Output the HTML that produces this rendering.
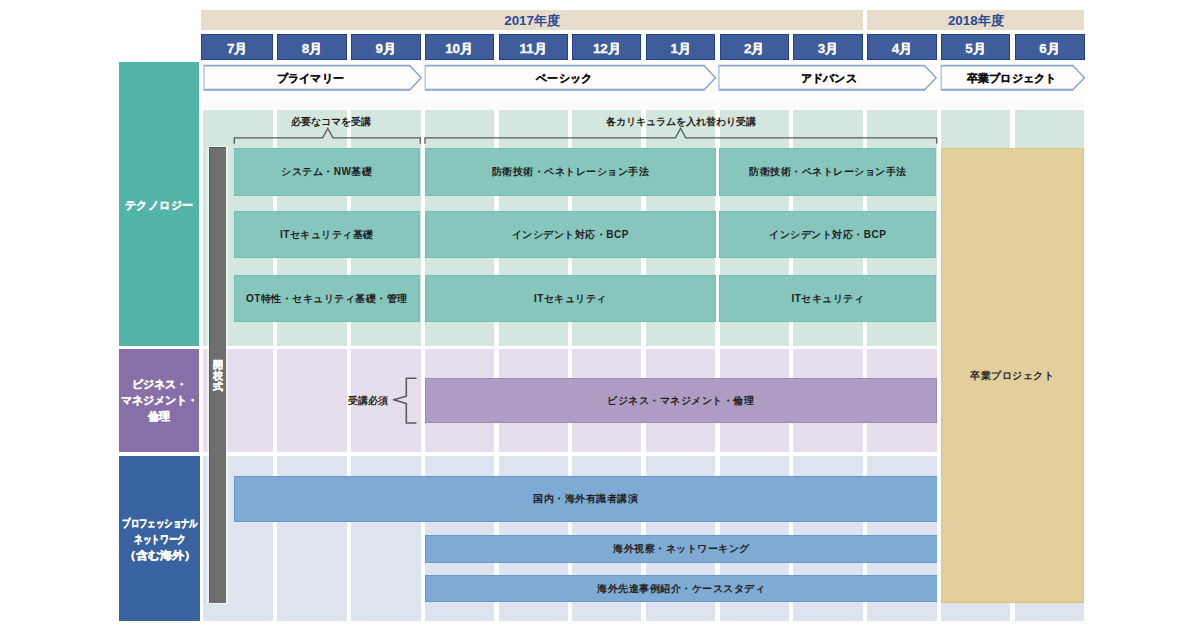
<!DOCTYPE html>
<html lang="ja"><head><meta charset="utf-8"><title>カリキュラム</title>
<style>
html,body{margin:0;padding:0;background:#fff;}
body{width:1200px;height:630px;position:relative;overflow:hidden;font-family:"Liberation Sans",sans-serif;}
.a{position:absolute;box-sizing:border-box;}
.c{display:flex;align-items:center;justify-content:center;text-align:center;white-space:nowrap;}
.yr{background:#e7dbca;color:#2b4a93;font-size:13.4px;font-weight:bold;padding-top:1.5px;}
.mo{background:#3f5c9b;border:1px solid #21408a;color:#fff;font-size:13.4px;font-weight:bold;padding-top:3px;-webkit-text-stroke:0.3px #fff;}
.bg1{background:#d3e7de;}
.bg2{background:#e6deec;}
.bg3{background:#dde3ef;}
.lab{color:#fff;font-weight:bold;font-size:11.5px;line-height:16px;-webkit-text-stroke:0.35px #fff;}
.blk{color:#1e1e1e;font-size:10px;letter-spacing:0.5px;font-weight:bold;padding-top:1px;}
.tb{background:#86c6bd;border:1px solid #74beb4;}
.pb{background:#ae9cc4;border:1px solid #9e88ba;}
.bb{background:#7eaad3;border-top:1px solid #6a9acb;border-bottom:1px solid #6a9acb;border-left:1px solid #6a9acb;}
.note{color:#1e1e1e;font-size:10px;font-weight:bold;}
.ph{color:#111;font-size:11.2px;font-weight:bold;-webkit-text-stroke:0.25px #111;letter-spacing:0.25px;}
</style></head><body>
<div class="a yr c" style="left:201.20px;top:9.60px;width:661.80px;height:20.80px;">2017年度</div>
<div class="a yr c" style="left:867.10px;top:9.60px;width:217.40px;height:20.80px;">2018年度</div>
<div class="a mo c" style="left:201.40px;top:33.80px;width:71.70px;height:26.60px;">7月</div>
<div class="a mo c" style="left:276.80px;top:33.80px;width:70.20px;height:26.60px;">8月</div>
<div class="a mo c" style="left:350.70px;top:33.80px;width:70.00px;height:26.60px;">9月</div>
<div class="a mo c" style="left:424.70px;top:33.80px;width:68.90px;height:26.60px;">10月</div>
<div class="a mo c" style="left:498.50px;top:33.80px;width:69.10px;height:26.60px;">11月</div>
<div class="a mo c" style="left:572.30px;top:33.80px;width:69.10px;height:26.60px;">12月</div>
<div class="a mo c" style="left:645.80px;top:33.80px;width:69.70px;height:26.60px;">1月</div>
<div class="a mo c" style="left:719.60px;top:33.80px;width:69.30px;height:26.60px;">2月</div>
<div class="a mo c" style="left:793.20px;top:33.80px;width:69.70px;height:26.60px;">3月</div>
<div class="a mo c" style="left:867.10px;top:33.80px;width:69.90px;height:26.60px;">4月</div>
<div class="a mo c" style="left:940.80px;top:33.80px;width:69.30px;height:26.60px;">5月</div>
<div class="a mo c" style="left:1014.50px;top:33.80px;width:70.00px;height:26.60px;">6月</div>
<div class="a " style="left:202.80px;top:99.00px;width:881.20px;height:11.00px;background:#fdfcfa;"></div>
<div class="a bg1" style="left:202.80px;top:110.00px;width:70.30px;height:235.60px;"></div>
<div class="a bg1" style="left:276.80px;top:110.00px;width:70.20px;height:235.60px;"></div>
<div class="a bg1" style="left:350.70px;top:110.00px;width:70.00px;height:235.60px;"></div>
<div class="a bg1" style="left:424.70px;top:110.00px;width:68.90px;height:235.60px;"></div>
<div class="a bg1" style="left:498.50px;top:110.00px;width:69.10px;height:235.60px;"></div>
<div class="a bg1" style="left:572.30px;top:110.00px;width:69.10px;height:235.60px;"></div>
<div class="a bg1" style="left:645.80px;top:110.00px;width:69.70px;height:235.60px;"></div>
<div class="a bg1" style="left:719.60px;top:110.00px;width:69.30px;height:235.60px;"></div>
<div class="a bg1" style="left:793.20px;top:110.00px;width:69.70px;height:235.60px;"></div>
<div class="a bg1" style="left:867.10px;top:110.00px;width:69.90px;height:235.60px;"></div>
<div class="a bg1" style="left:940.80px;top:110.00px;width:69.30px;height:235.60px;"></div>
<div class="a bg1" style="left:1014.50px;top:110.00px;width:69.50px;height:235.60px;"></div>
<div class="a bg2" style="left:202.80px;top:348.80px;width:70.30px;height:103.40px;"></div>
<div class="a bg2" style="left:276.80px;top:348.80px;width:70.20px;height:103.40px;"></div>
<div class="a bg2" style="left:350.70px;top:348.80px;width:70.00px;height:103.40px;"></div>
<div class="a bg2" style="left:424.70px;top:348.80px;width:68.90px;height:103.40px;"></div>
<div class="a bg2" style="left:498.50px;top:348.80px;width:69.10px;height:103.40px;"></div>
<div class="a bg2" style="left:572.30px;top:348.80px;width:69.10px;height:103.40px;"></div>
<div class="a bg2" style="left:645.80px;top:348.80px;width:69.70px;height:103.40px;"></div>
<div class="a bg2" style="left:719.60px;top:348.80px;width:69.30px;height:103.40px;"></div>
<div class="a bg2" style="left:793.20px;top:348.80px;width:69.70px;height:103.40px;"></div>
<div class="a bg2" style="left:867.10px;top:348.80px;width:69.90px;height:103.40px;"></div>
<div class="a bg2" style="left:940.80px;top:348.80px;width:69.30px;height:103.40px;"></div>
<div class="a bg2" style="left:1014.50px;top:348.80px;width:69.50px;height:103.40px;"></div>
<div class="a bg3" style="left:202.80px;top:455.80px;width:70.30px;height:164.90px;"></div>
<div class="a bg3" style="left:276.80px;top:455.80px;width:70.20px;height:164.90px;"></div>
<div class="a bg3" style="left:350.70px;top:455.80px;width:70.00px;height:164.90px;"></div>
<div class="a bg3" style="left:424.70px;top:455.80px;width:68.90px;height:164.90px;"></div>
<div class="a bg3" style="left:498.50px;top:455.80px;width:69.10px;height:164.90px;"></div>
<div class="a bg3" style="left:572.30px;top:455.80px;width:69.10px;height:164.90px;"></div>
<div class="a bg3" style="left:645.80px;top:455.80px;width:69.70px;height:164.90px;"></div>
<div class="a bg3" style="left:719.60px;top:455.80px;width:69.30px;height:164.90px;"></div>
<div class="a bg3" style="left:793.20px;top:455.80px;width:69.70px;height:164.90px;"></div>
<div class="a bg3" style="left:867.10px;top:455.80px;width:69.90px;height:164.90px;"></div>
<div class="a bg3" style="left:940.80px;top:455.80px;width:69.30px;height:164.90px;"></div>
<div class="a bg3" style="left:1014.50px;top:455.80px;width:69.50px;height:164.90px;"></div>
<div class="a c lab" style="left:118.70px;top:62.40px;width:80.80px;height:283.20px;background:#52b3a8;font-size:11px;letter-spacing:0.4px;padding-top:2px;padding-left:0.4px;">テクノロジー</div>
<div class="a c lab" style="left:118.70px;top:348.90px;width:80.80px;height:103.00px;background:#8770a8;font-size:10.8px;padding-top:0px;">ビジネス・<br>マネジメント・<br>倫理</div>
<div class="a " style="left:118.70px;top:455.60px;width:80.90px;height:165.00px;background:#3863a0;"></div>
<div class="a c lab" style="left:99.50px;top:514.70px;width:120.00px;height:16.00px;font-size:11px;transform:scaleX(0.76);">プロフェッショナル</div>
<div class="a c lab" style="left:99.50px;top:530.70px;width:120.00px;height:16.00px;font-size:11px;transform:scaleX(0.79);">ネットワーク</div>
<div class="a c lab" style="left:99.50px;top:546.50px;width:120.00px;height:16.00px;font-size:11px;transform:scaleX(1.1);">（含む海外）</div>
<div class="a " style="left:207.30px;top:145.60px;width:20.70px;height:458.80px;background:rgba(255,255,255,0.55);"></div>
<div class="a " style="left:209.10px;top:147.00px;width:17.00px;height:455.60px;background:#6e6e6e;border-left:1px solid #5c5c5c;border-top:1px solid #5c5c5c;"></div>
<div class="a " style="left:209.30px;top:359.00px;width:16.70px;height:34.50px;color:#fff;font-size:10.3px;font-weight:bold;line-height:11px;text-align:center;-webkit-text-stroke:0.3px #fff;">開<br>校<br>式</div>
<div class="a c blk" style="left:940.70px;top:147.70px;width:143.60px;height:455.80px;background:#e2cf9c;border:1px solid #dcc482;">卒業プロジェクト</div>
<div class="a tb c blk" style="left:233.70px;top:148.00px;width:186.30px;height:47.50px;">システム・NW基礎</div>
<div class="a tb c blk" style="left:425.00px;top:148.00px;width:290.80px;height:47.50px;">防衛技術・ペネトレーション手法</div>
<div class="a tb c blk" style="left:719.30px;top:148.00px;width:217.10px;height:47.50px;">防衛技術・ペネトレーション手法</div>
<div class="a tb c blk" style="left:233.70px;top:210.70px;width:186.30px;height:47.30px;">ITセキュリティ基礎</div>
<div class="a tb c blk" style="left:425.00px;top:210.70px;width:290.80px;height:47.30px;">インシデント対応・BCP</div>
<div class="a tb c blk" style="left:719.30px;top:210.70px;width:217.10px;height:47.30px;">インシデント対応・BCP</div>
<div class="a tb c blk" style="left:233.70px;top:274.50px;width:186.30px;height:47.50px;">OT特性・セキュリティ基礎・管理</div>
<div class="a tb c blk" style="left:425.00px;top:274.50px;width:290.80px;height:47.50px;">ITセキュリティ</div>
<div class="a tb c blk" style="left:719.30px;top:274.50px;width:217.10px;height:47.50px;">ITセキュリティ</div>
<div class="a pb c blk" style="left:425.00px;top:377.70px;width:511.60px;height:45.60px;">ビジネス・マネジメント・倫理</div>
<div class="a bb c blk" style="left:233.70px;top:475.50px;width:702.90px;height:46.00px;">国内・海外有識者講演</div>
<div class="a bb c blk" style="left:425.00px;top:535.00px;width:511.60px;height:27.50px;">海外視察・ネットワーキング</div>
<div class="a bb c blk" style="left:425.00px;top:575.10px;width:511.60px;height:26.90px;">海外先進事例紹介・ケーススタディ</div>
<div class="a c note" style="left:281.00px;top:115.00px;width:100.00px;height:13.00px;">必要なコマを受講</div>
<div class="a c note" style="left:600.00px;top:115.00px;width:162.00px;height:13.00px;">各カリキュラムを入れ替わり受講</div>
<div class="a c note" style="left:340.00px;top:394.00px;width:56.00px;height:14.00px;">受講必須</div>
<svg class="a" style="left:0;top:0" width="1200" height="630" viewBox="0 0 1200 630">
<path d="M203.8 65.5 L410.0 65.5 L421.09999999999997 77.7 L410.0 89.9 L203.8 89.9 Z" fill="#fdfdfc" stroke="none"/>
<path d="M203.8 65.6 L410.0 65.6 M203.8 89.8 L410.0 89.8" stroke="#8aa7d1" stroke-width="1.9" fill="none"/>
<path d="M409.5 65.2 L421.2 77.7 L409.5 90.2" stroke="#7f9fcd" stroke-width="1.3" fill="none" stroke-linejoin="miter"/>
<path d="M204.0 65.0 L204.0 90.4" stroke="#9fb7dc" stroke-width="1.2" fill="none"/>
<path d="M425.0 65.5 L704.3 65.5 L715.4 77.7 L704.3 89.9 L425.0 89.9 Z" fill="#fdfdfc" stroke="none"/>
<path d="M425.0 65.6 L704.3 65.6 M425.0 89.8 L704.3 89.8" stroke="#8aa7d1" stroke-width="1.9" fill="none"/>
<path d="M703.8 65.2 L715.5 77.7 L703.8 90.2" stroke="#7f9fcd" stroke-width="1.3" fill="none" stroke-linejoin="miter"/>
<path d="M425.2 65.0 L425.2 90.4" stroke="#9fb7dc" stroke-width="1.2" fill="none"/>
<path d="M718.7 65.5 L924.7 65.5 L936.1 77.7 L924.7 89.9 L718.7 89.9 Z" fill="#fdfdfc" stroke="none"/>
<path d="M718.7 65.6 L924.7 65.6 M718.7 89.8 L924.7 89.8" stroke="#8aa7d1" stroke-width="1.9" fill="none"/>
<path d="M924.2 65.2 L936.2 77.7 L924.2 90.2" stroke="#7f9fcd" stroke-width="1.3" fill="none" stroke-linejoin="miter"/>
<path d="M718.9000000000001 65.0 L718.9000000000001 90.4" stroke="#9fb7dc" stroke-width="1.2" fill="none"/>
<path d="M941.0 65.5 L1073.0 65.5 L1084.4 77.7 L1073.0 89.9 L941.0 89.9 Z" fill="#fdfdfc" stroke="none"/>
<path d="M941.0 65.6 L1073.0 65.6 M941.0 89.8 L1073.0 89.8" stroke="#8aa7d1" stroke-width="1.9" fill="none"/>
<path d="M1072.5 65.2 L1084.5 77.7 L1072.5 90.2" stroke="#7f9fcd" stroke-width="1.3" fill="none" stroke-linejoin="miter"/>
<path d="M941.2 65.0 L941.2 90.4" stroke="#9fb7dc" stroke-width="1.2" fill="none"/>
<path d="M234.3 143.8 L234.3 137.9 L322.6 137.9 L327.8 128.4 L333.0 137.9 L420.3 137.9 L420.3 143.8" fill="none" stroke="#5a5a5a" stroke-width="1.3"/>
<path d="M425.0 143.8 L425.0 137.9 L675.4 137.9 L680.6 128.4 L685.8000000000001 137.9 L936.8 137.9 L936.8 143.8" fill="none" stroke="#5a5a5a" stroke-width="1.3"/>
<path d="M416.4 378.3 L406.3 378.3 L406.3 396.2 L393.6 399.8 L406.3 403.6 L406.3 423.0 L416.4 423.0" fill="none" stroke="#5a5a5a" stroke-width="1.6" stroke-linejoin="round"/>
</svg>
<div class="a c ph" style="left:250.30px;top:66.50px;width:120.00px;height:23.40px;">プライマリー</div>
<div class="a c ph" style="left:504.30px;top:66.50px;width:120.00px;height:23.40px;">ベーシック</div>
<div class="a c ph" style="left:768.70px;top:66.50px;width:120.00px;height:23.40px;">アドバンス</div>
<div class="a c ph" style="left:951.50px;top:66.50px;width:120.00px;height:23.40px;">卒業プロジェクト</div>
</body></html>
